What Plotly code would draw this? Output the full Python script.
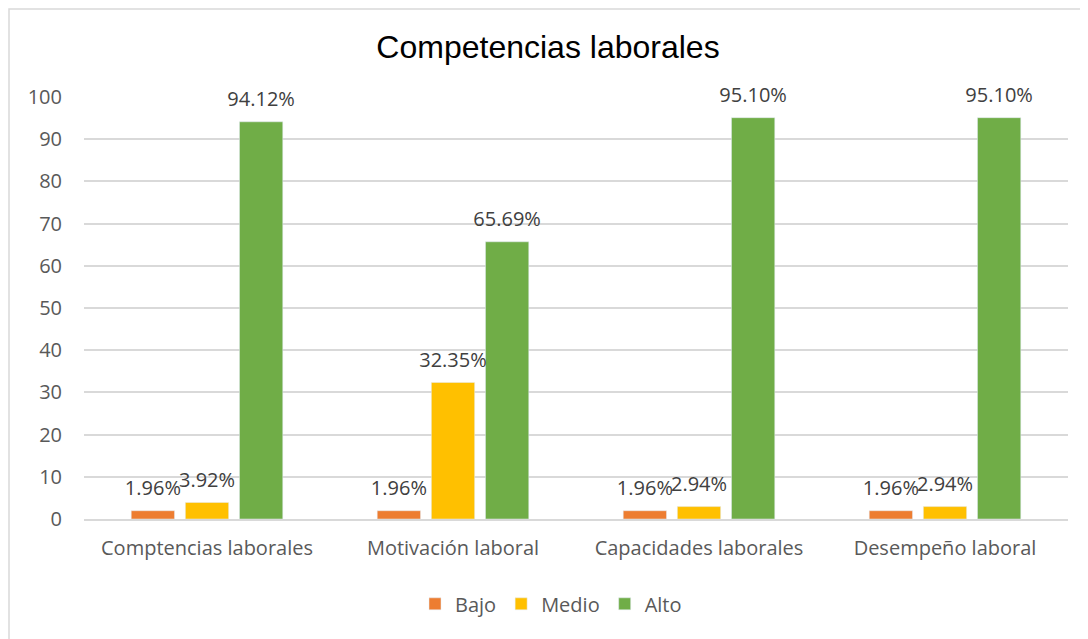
import plotly.graph_objects as go

categories = ["Comptencias laborales", "Motivación laboral", "Capacidades laborales", "Desempeño laboral"]
bajo = [1.96, 1.96, 1.96, 1.96]
medio = [3.92, 32.35, 2.94, 2.94]
alto = [94.12, 65.69, 95.10, 95.10]
series_names = ["Bajo", "Medio", "Alto"]
series_values = [bajo, medio, alto]
colors = ["#ED7D31", "#FFC000", "#70AD47"]
y_ticks = [0, 10, 20, 30, 40, 50, 60, 70, 80, 90, 100]

LABEL_FONT = "Open Sans, Carlito, Calibri, sans-serif"

fig = go.Figure()
for name, vals, col in zip(series_names, series_values, colors):
    fig.add_trace(go.Bar(
        x=categories, y=vals, name=name, marker_color=col,
        offsetgroup=name, alignmentgroup="g",
    ))
for name, vals in zip(series_names, series_values):
    fig.add_trace(go.Scatter(
        x=categories, y=vals, mode="markers+text",
        text=[f"{v:.2f}%" for v in vals], textposition="top center",
        textfont=dict(family=LABEL_FONT, size=20, color="#404040"),
        marker=dict(size=15, opacity=0),
        offsetgroup=name, alignmentgroup="g",
        showlegend=False, hoverinfo="skip", cliponaxis=False,
    ))

fig.update_layout(
    width=1080, height=631,
    margin=dict(l=76, r=20, t=89, b=120),
    paper_bgcolor="white", plot_bgcolor="white",
    barmode="group", bargap=0.34, bargroupgap=0.2,
    scattermode="group", scattergap=0.34,
    title=dict(text="Competencias laborales", x=0.5, xanchor="center", y=0.938, yanchor="middle",
               font=dict(family="Liberation Sans, Arial, sans-serif", size=32, color="#000000")),
    legend=dict(orientation="h", x=0.4746, xanchor="center", y=-0.201, yanchor="middle",
                font=dict(family=LABEL_FONT, size=20, color="#595959"),
                itemwidth=30, traceorder="normal"),
    shapes=[dict(type="rect", xref="paper", yref="paper",
                 x0=-75 / 984, x1=1.1, y0=-0.5, y1=1 + 88 / 422,
                 line=dict(color="#D9D9D9", width=1.5), fillcolor="rgba(0,0,0,0)", layer="below")],
)
fig.update_xaxes(
    showgrid=False, showline=True, linecolor="#D9D9D9", linewidth=1.5,
    ticks="outside", ticklen=10, tickcolor="rgba(0,0,0,0)",
    tickfont=dict(family=LABEL_FONT, size=20, color="#595959"),
)
fig.update_yaxes(
    range=[0, 100], tickvals=y_ticks, showgrid=True, gridcolor="#D9D9D9", gridwidth=1.5,
    zeroline=False, showline=False,
    ticks="outside", ticklen=17, tickcolor="rgba(0,0,0,0)",
    tickfont=dict(family=LABEL_FONT, size=20, color="#595959"),
)
fig.write_html("out.html")
